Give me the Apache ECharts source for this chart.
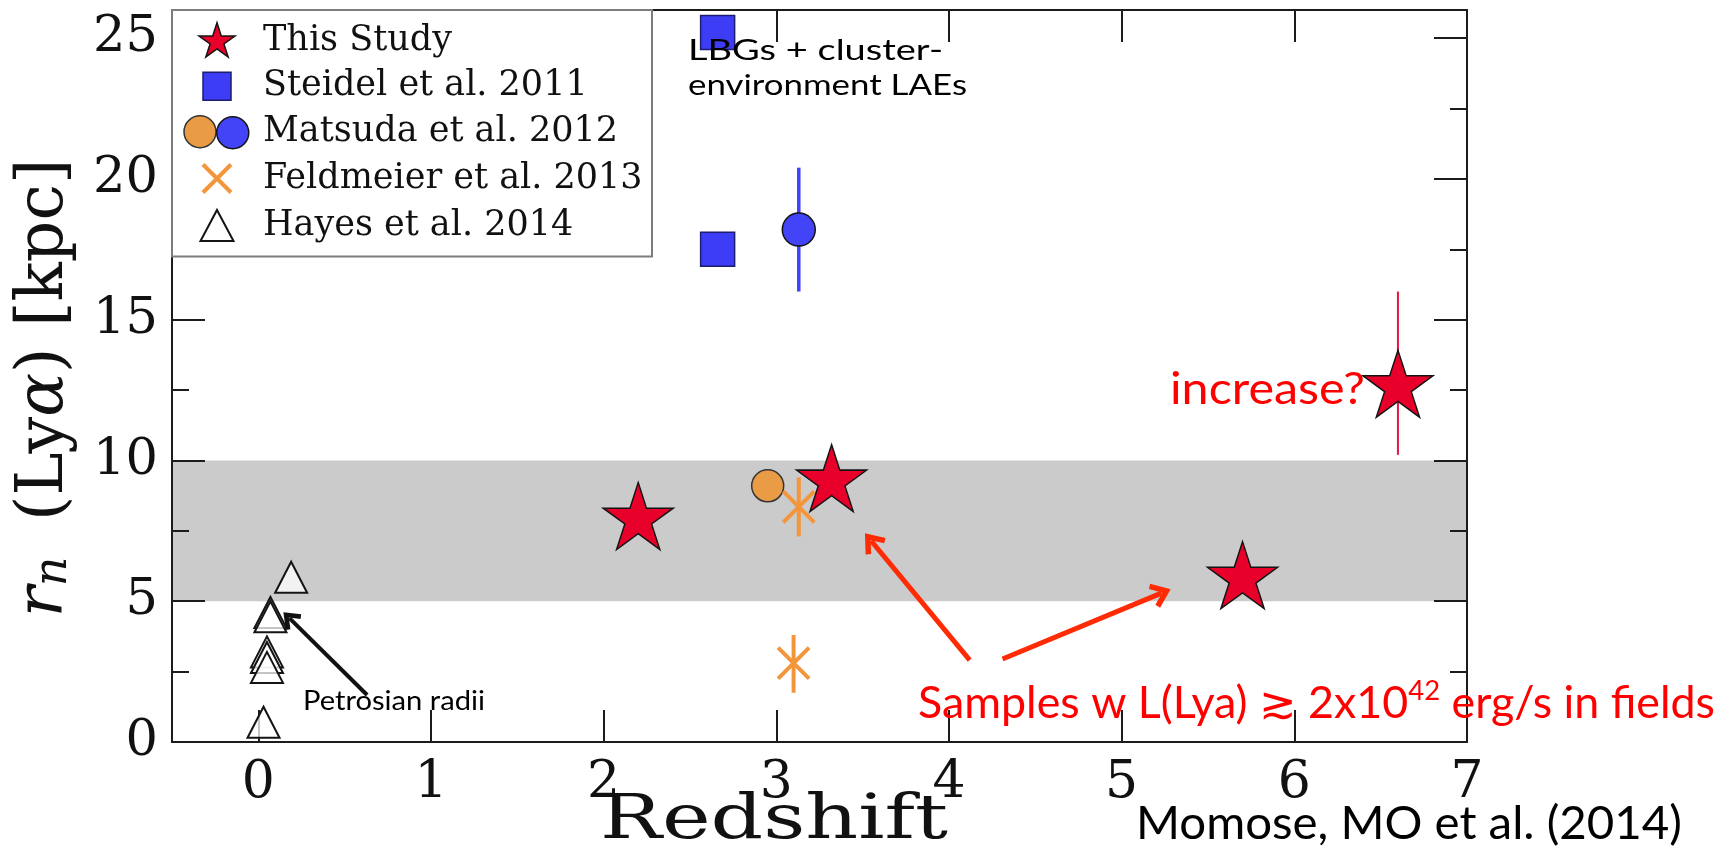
<!DOCTYPE html>
<html>
<head>
<meta charset="utf-8">
<script src="https://cdn.jsdelivr.net/npm/echarts@6/dist/echarts.min.js"></script>
<style>
  html, body { margin: 0; padding: 0; background: #ffffff; }
  #chart { width: 1729px; height: 858px; }
</style>
</head>
<body>
<div id="chart"></div>
<script>
// Lyα halo scale length r_n against redshift for several samples.

// ---- data ----
const studyZ = [2.2, 3.32, 5.7, 6.6];
const studyR = [7.9, 9.25, 5.8, 12.6];
const studyErr = [[6.6, 10.2, 16.0]];            // [z, low, high]

const steidelZ = [2.66, 2.66];
const steidelR = [25.2, 17.5];

const matsudaFieldZ = [2.95];
const matsudaFieldR = [9.1];
const matsudaClusterZ = [3.13];
const matsudaClusterR = [18.2];
const matsudaClusterErr = [[3.13, 16.0, 20.4]];

const feldmeierZ = [3.13, 3.10];
const feldmeierR = [8.35, 2.8];
const feldmeierErr = [[3.13, 7.3, 9.4], [3.10, 1.75, 3.8]];

const hayesZ = [0.19, 0.07, 0.07, 0.05, 0.05, 0.05, 0.03];
const hayesR = [5.85, 4.6, 4.45, 3.2, 3.0, 2.65, 0.7];

const bandR = [5, 10];

const xTicks = [0, 1, 2, 3, 4, 5, 6, 7];
const yTicks = [0, 5, 10, 15, 20, 25];
const yMinorTicks = [2.5, 7.5, 12.5, 17.5, 22.5];

const legendNames = ['This Study', 'Steidel et al. 2011', 'Matsuda et al. 2012',
                     'Feldmeier et al. 2013', 'Hayes et al. 2014'];
const matsudaClusterName = 'Matsuda et al. 2012 (cluster)';

// annotation arrows: [fromZ, fromR, toZ, toR]
const redArrows = [[4.12, 2.91, 3.55, 7.14], [4.31, 2.95, 5.23, 5.29]];
const blackArrows = [[0.63, 1.67, 0.18, 4.40]];

// ---- styling ----
const COL = {
  star: '#e8002b', edge: '#141414', steidel: '#3d3df5', matBlue: '#4343f7',
  matOrange: '#e99b45', feld: '#f3963b', band: '#cbcbcb', arrowRed: '#ff2b05',
  annRed: '#ff0000', axis: '#1c1c1c', text: '#111111'
};
const SERIF = "'DejaVu Serif', serif";
const SANS = "Lato, 'Open Sans', sans-serif";

const pts = (xs, ys) => xs.map((x, i) => [x, ys[i]]);

function starPath(cx, cy, R) {
  const p = [];
  for (let k = 0; k < 10; k++) {
    const r = k % 2 ? R * 0.381966 : R;
    const a = (-90 + 36 * k) * Math.PI / 180;
    p.push((cx + r * Math.cos(a)).toFixed(2) + ',' + (cy + r * Math.sin(a)).toFixed(2));
  }
  return 'M' + p.join(' L') + ' Z';
}
function circlePath(cx, cy, r) {
  return `M${cx - r},${cy} A${r},${r} 0 1,1 ${cx + r},${cy} A${r},${r} 0 1,1 ${cx - r},${cy} Z`;
}

// star centred on its circumscribed circle (extra moveTo keeps the box symmetric)
const STAR = 'path://' + starPath(0, 0, 100) + ' M0,100';
const CROSS = 'path://M0,0 L10,10 M10,0 L0,10';
const CHEVRON = 'path://M10,0 L20,13 L16.5,15.5 L10,7 L3.5,15.5 L0,13 Z';

// legend icons drawn inside a fixed 76x38 box
const LW = 76, LH = 38;
const box = `M0,0 M${LW},${LH} `;
const legendIcons = {
  star: 'path://' + box + starPath(35, 20, 19),
  square: 'path://' + box + 'M21,5 L49,5 L49,33 L21,33 Z',
  orange: 'path://' + box + circlePath(18, 19, 16),
  blue: 'path://' + box + circlePath(52, 19, 16),
  cross: 'path://' + box + 'M21,5 L49,33 M49,5 L21,33',
  tri: 'path://' + box + 'M35,3.5 L51.5,34.5 L18.5,34.5 Z'
};

const measureCtx = document.createElement('canvas').getContext('2d');
function textWidth(str, font) { measureCtx.font = font; return measureCtx.measureText(str).width; }

const legendFont = `35px ${SERIF}`;
const legendTextW = Math.max(...legendNames.map(n => textWidth(n, legendFont)));
const legendPadRight = Math.max(4, 478 - 8 - (LW + 5) - legendTextW);
const legendGap = 6;

function errorBars(name, data, color, width) {
  return {
    type: 'custom', name, data, z: 4, silent: true,
    renderItem(params, api) {
      const a = api.coord([api.value(0), api.value(1)]);
      const b = api.coord([api.value(0), api.value(2)]);
      return { type: 'line', shape: { x1: a[0], y1: a[1], x2: b[0], y2: b[1] },
               style: { stroke: color, lineWidth: width } };
    }
  };
}

function arrowData(list, color, width, size) {
  return list.map(a => [
    { coord: [a[0], a[1]], symbol: 'none' },
    { coord: [a[2], a[3]], symbol: CHEVRON, symbolSize: size,
      lineStyle: { color, width, type: 'solid' }, itemStyle: { color } }
  ]);
}

// annotation text; a narrow humanist face is emulated by horizontal scaling to a set width
function note(text, x, y, size, color, align, targetW) {
  const w = textWidth(text, `${size}px Lato`);
  return {
    type: 'text', x, y, z: 20, silent: true,
    scaleX: targetW ? targetW / w : 1,
    style: { text, fontFamily: SANS, fontSize: size, fill: color,
             align, textAlign: align, verticalAlign: 'middle', textVerticalAlign: 'middle' }
  };
}

const samplesMain1 = 'Samples w L(Lya) \u2273 2x10';
const samplesMain2 = ' erg/s in fields';
const samplesW = textWidth(samplesMain1 + samplesMain2, `44px Lato`) + textWidth('42', `27px Lato`);
const redshiftW = textWidth('Redshift', `62px 'DejaVu Serif'`);

const axisCommon = (pos) => ({
  type: 'value', position: pos, z: 3, offset: 0,
  axisLine: { show: true, onZero: false, lineStyle: { color: COL.axis, width: 2 } },
  splitLine: { show: false }
});
const majorTick = (values, len) => ({
  show: true, inside: true, length: len, customValues: values,
  lineStyle: { color: COL.axis, width: 2 }
});

const option = {
  animation: false,
  backgroundColor: '#ffffff',
  grid: { left: 172, right: 262, top: 10, bottom: 116, containLabel: false },
  xAxis: [
    Object.assign(axisCommon('bottom'), {
      min: -0.5, max: 7,
      axisTick: majorTick(xTicks, 32),
      axisLabel: { show: true, customValues: xTicks, margin: 15,
                   fontFamily: SERIF, fontSize: 52, color: COL.text }
    }),
    Object.assign(axisCommon('top'), {
      min: -0.5, max: 7,
      axisTick: majorTick(xTicks, 32),
      axisLabel: { show: false }
    })
  ],
  yAxis: [
    Object.assign(axisCommon('left'), {
      min: 0, max: 26,
      axisTick: majorTick(yTicks, 33),
      axisLabel: { show: true, customValues: yTicks, margin: 14,
                   fontFamily: SERIF, fontSize: 51, color: COL.text }
    }),
    Object.assign(axisCommon('right'), {
      min: 0, max: 26,
      axisTick: majorTick(yTicks, 33),
      axisLabel: { show: false }
    }),
    Object.assign(axisCommon('left'), {
      min: 0, max: 26, axisLine: { show: false, onZero: false },
      axisTick: majorTick(yMinorTicks, 17),
      axisLabel: { show: false }
    }),
    Object.assign(axisCommon('right'), {
      min: 0, max: 26, axisLine: { show: false, onZero: false },
      axisTick: majorTick(yMinorTicks, 17),
      axisLabel: { show: false }
    })
  ],
  legend: [
    {
      orient: 'vertical', left: 172, top: 10, z: 10,
      padding: [11, legendPadRight, 11, 8],
      itemWidth: LW, itemHeight: LH, itemGap: legendGap,
      backgroundColor: '#ffffff', borderColor: '#7d7d7d', borderWidth: 2, borderRadius: 0,
      selectedMode: false,
      textStyle: { fontFamily: SERIF, fontSize: 35, color: COL.text },
      data: [
        { name: legendNames[0], icon: legendIcons.star,
          itemStyle: { color: COL.star, borderColor: COL.edge, borderWidth: 1.5 } },
        { name: legendNames[1], icon: legendIcons.square,
          itemStyle: { color: COL.steidel, borderColor: '#1d1d70', borderWidth: 1.5 } },
        { name: legendNames[2], icon: legendIcons.orange,
          itemStyle: { color: COL.matOrange, borderColor: '#333333', borderWidth: 1.5 } },
        { name: legendNames[3], icon: legendIcons.cross,
          itemStyle: { color: 'rgba(0,0,0,0)', borderColor: COL.feld, borderWidth: 4 } },
        { name: legendNames[4], icon: legendIcons.tri,
          itemStyle: { color: '#ffffff', borderColor: COL.edge, borderWidth: 2 } }
      ]
    },
    {
      orient: 'vertical', left: 180, top: 10 + 11 + 2 * (40 + legendGap), z: 11,
      padding: 0, itemWidth: LW, itemHeight: LH,
      selectedMode: false, formatter: () => '',
      textStyle: { fontSize: 1 },
      data: [
        { name: matsudaClusterName, icon: legendIcons.blue,
          itemStyle: { color: COL.matBlue, borderColor: '#141414', borderWidth: 1.5 } }
      ]
    }
  ],
  series: [
    {
      name: 'band', type: 'scatter', data: [], silent: true, z: 1,
      markArea: {
        silent: true, z: 1,
        itemStyle: { color: COL.band },
        data: [[{ yAxis: bandR[0] }, { yAxis: bandR[1] }]]
      }
    },
    errorBars('This Study range', studyErr, '#e8143c', 2),
    errorBars('Matsuda cluster range', matsudaClusterErr, '#4040ff', 3.5),
    errorBars('Feldmeier range', feldmeierErr, COL.feld, 4),
    {
      name: legendNames[4], type: 'scatter', z: 5, data: pts(hayesZ, hayesR),
      symbol: 'triangle', symbolSize: [32, 31],
      itemStyle: { color: 'rgba(255,255,255,0.75)', borderColor: COL.edge, borderWidth: 2, opacity: 1 }
    },
    {
      name: legendNames[1], type: 'scatter', z: 5, data: pts(steidelZ, steidelR),
      symbol: 'rect', symbolSize: 34,
      itemStyle: { color: COL.steidel, borderColor: '#1d1d70', borderWidth: 1.5, opacity: 1 }
    },
    {
      name: legendNames[2], type: 'scatter', z: 5, data: pts(matsudaFieldZ, matsudaFieldR),
      symbol: 'circle', symbolSize: 32,
      itemStyle: { color: COL.matOrange, borderColor: '#333333', borderWidth: 1.5, opacity: 1 }
    },
    {
      name: matsudaClusterName, type: 'scatter', z: 5, data: pts(matsudaClusterZ, matsudaClusterR),
      symbol: 'circle', symbolSize: 33,
      itemStyle: { color: COL.matBlue, borderColor: '#141414', borderWidth: 1.5, opacity: 1 }
    },
    {
      name: legendNames[3], type: 'scatter', z: 5, data: pts(feldmeierZ, feldmeierR),
      symbol: CROSS, symbolSize: 31,
      itemStyle: { color: 'rgba(0,0,0,0)', borderColor: COL.feld, borderWidth: 4, opacity: 1 }
    },
    {
      name: legendNames[0], type: 'scatter', z: 6, data: pts(studyZ, studyR),
      symbol: STAR, symbolSize: [70, 74],
      itemStyle: { color: COL.star, borderColor: COL.edge, borderWidth: 1.5, opacity: 1 }
    },
    {
      name: 'arrows', type: 'scatter', data: [], silent: true, z: 7,
      markLine: {
        silent: true, z: 7, animation: false, precision: 4,
        symbol: ['none', CHEVRON],
        label: { show: false },
        emphasis: { disabled: true },
        data: arrowData(redArrows, COL.arrowRed, 5, [26, 20])
          .concat(arrowData(blackArrows, '#111111', 4, [22, 17]))
      }
    }
  ],
  graphic: [
    // y-axis title, rotated
    {
      type: 'text', x: 45, y: 388, rotation: Math.PI / 2, z: 20, silent: true,
      style: {
        text: '{i|r}{s|n} (Ly{i|\u03b1}) [kpc]',
        fontFamily: SERIF, fontSize: 65, fill: COL.text,
        align: 'center', textAlign: 'center', verticalAlign: 'middle', textVerticalAlign: 'middle',
        rich: {
          i: { fontFamily: SERIF, fontSize: 65, fontStyle: 'italic', fill: COL.text },
          s: { fontFamily: SERIF, fontSize: 46, fontStyle: 'italic', fill: COL.text,
               verticalAlign: 'bottom', padding: [0, 15, 0, 0] }
        }
      }
    },
    // x-axis title
    {
      type: 'text', x: 774, y: 822, z: 20, silent: true, scaleX: 348 / redshiftW,
      style: { text: 'Redshift', fontFamily: SERIF, fontSize: 62, fill: COL.text,
               align: 'center', textAlign: 'center', verticalAlign: 'middle', textVerticalAlign: 'middle' }
    },
    note('LBGs + cluster-', 688, 51, 29, '#000000', 'left', 255),
    note('environment LAEs', 688, 86, 29, '#000000', 'left', 279),
    note('increase?', 1365, 389, 45, COL.annRed, 'right', 195),
    note('Petrosian radii', 303, 702, 26, '#000000', 'left', 182),
    note('Momose, MO et al. (2014)', 1136, 824, 47, '#000000', 'left', 546),
    {
      type: 'text', x: 918, y: 704, z: 20, silent: true,
      scaleX: 797 / samplesW,
      style: {
        text: '{m|' + samplesMain1 + '}{p|42}{m|' + samplesMain2 + '}',
        fontFamily: SANS, fontSize: 44, fill: COL.annRed,
        align: 'left', textAlign: 'left', verticalAlign: 'middle', textVerticalAlign: 'middle',
        rich: {
          m: { fontFamily: SANS, fontSize: 44, fill: COL.annRed, lineHeight: 52 },
          p: { fontFamily: SANS, fontSize: 27, fill: COL.annRed, verticalAlign: 'top', lineHeight: 36 }
        }
      }
    }
  ]
};

const chart = echarts.init(document.getElementById('chart'), null, { renderer: 'canvas' });
chart.setOption(option);
</script>
</body>
</html>
